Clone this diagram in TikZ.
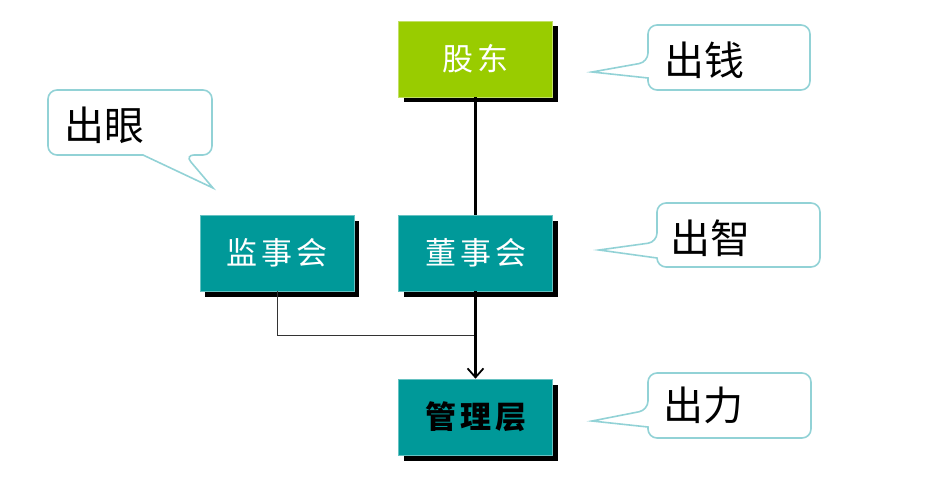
\documentclass[tikz,border=0pt]{standalone}
\usepackage{fontspec}
\newfontfamily\cjk{Noto Sans CJK SC}
\usetikzlibrary{shadows,arrows.meta}
\definecolor{boxgreen}{HTML}{99CC00}
\definecolor{boxteal}{HTML}{009999}
\definecolor{callline}{HTML}{92D2D6}
\tikzset{
  orgbox/.style={minimum width=154pt, minimum height=76pt, inner sep=0pt,
    draw=#1!60!white, line width=0.6pt, fill=#1,
    drop shadow={shadow xshift=5pt, shadow yshift=-5.5pt, fill=black, opacity=1},
    font=\cjk\fontsize{31}{34}\selectfont},
  calloutline/.style={draw=callline, line width=1.6pt, fill=white},
  callouttext/.style={inner sep=0pt, font=\cjk\fontsize{40}{44}\selectfont, text=black},
  conn/.style={line width=2.2pt, draw=black},
  thinconn/.style={line width=1pt, draw=black!80}
}
\newcommand{\gapc}{\hspace{4pt}}
\begin{document}
\begin{tikzpicture}[x=1pt,y=-1pt]
\useasboundingbox (0,0) rectangle (933,481);
% boxes
\node[orgbox=boxgreen, text=white] (gd) at (475.5,59) {股\gapc 东};
\node[orgbox=boxteal, text=white] (jsh) at (277,253) {监\gapc 事\gapc 会};
\node[orgbox=boxteal, text=white] (dsh) at (475.5,253) {董\gapc 事\gapc 会};
\node[orgbox=boxteal, text=black, font=\cjk\bfseries\fontsize{31}{34}\selectfont] (glc) at (475.5,417) {管\gapc 理\gapc 层};
% connectors
\coordinate (jn) at (475.5,335);
\draw[conn] (gd.south) -- (dsh.north);
\draw[thinconn] (jsh.south) |- (jn);
\draw[conn, -{Straight Barb[length=9pt, width=16pt, line width=1.8pt]}] (dsh.south) -- (glc.north);
% callouts
\draw[calloutline] (592,72) -- (648,78) [rounded corners=9pt] -- (648,90) -- (810,90) -- (810,25) -- (648,25) -- (648,62) [sharp corners] -- cycle;
\node[callouttext] (t1) at (704,60) {出钱};
\draw[calloutline] (213,188) -- (143,155) [rounded corners=9pt] -- (48,155) -- (48,90) -- (212,90) -- (212,155) -- (185,155) [sharp corners] -- cycle;
\node[callouttext] (t2) at (104,125) {出眼};
\draw[calloutline] (599,250) -- (657,258) [rounded corners=9pt] -- (657,267) -- (820,267) -- (820,203) -- (657,203) -- (657,242) [sharp corners] -- cycle;
\node[callouttext] (t3) at (710,238) {出智};
\draw[calloutline] (592,421) -- (648,427) [rounded corners=9pt] -- (648,438) -- (811,438) -- (811,373) -- (648,373) -- (648,410) [sharp corners] -- cycle;
\node[callouttext] (t4) at (703,405) {出力};
\end{tikzpicture}
\end{document}
